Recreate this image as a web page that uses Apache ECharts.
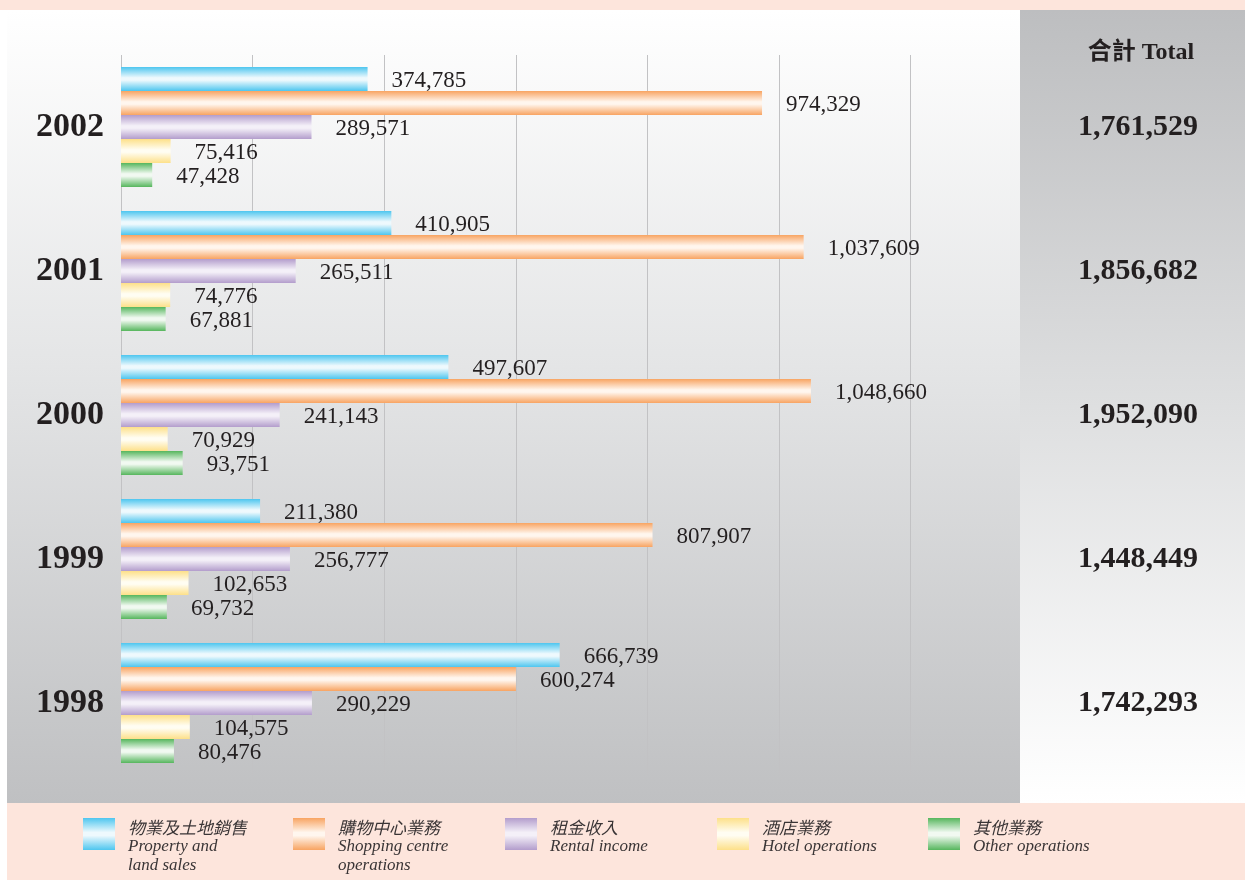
<!DOCTYPE html>
<html>
<head>
<meta charset="utf-8">
<script src="https://cdn.jsdelivr.net/npm/echarts@6/dist/echarts.min.js"></script>
<style>
  html, body { margin: 0; padding: 0; }
  body { width: 1245px; height: 880px; background: #fde5dc; position: relative; overflow: hidden; }
  #leftStrip { position: absolute; left: 0; top: 10px; width: 7px; height: 870px; background: #ffffff; }
  #mainPanel { position: absolute; left: 7px; top: 10px; width: 1013px; height: 793px;
    background: linear-gradient(to bottom, #ffffff 0%, #e4e5e6 45%, #bfc0c2 100%); }
  #rightPanel { position: absolute; left: 1020px; top: 10px; width: 225px; height: 793px;
    background: linear-gradient(to bottom, #bdbec0 0%, #dedfe0 50%, #ffffff 100%); }
  #chart { position: absolute; left: 0; top: 0; width: 1245px; height: 880px; }
</style>
</head>
<body>
<div id="leftStrip"></div>
<div id="mainPanel"></div>
<div id="rightPanel"></div>
<div id="chart"></div>
<script>
// ---- Data ----
const years = ['1998', '1999', '2000', '2001', '2002'];
const propertySales = [666739, 211380, 497607, 410905, 374785];
const shoppingCentre = [600274, 807907, 1048660, 1037609, 974329];
const rentalIncome = [290229, 256777, 241143, 265511, 289571];
const hotelOps = [104575, 102653, 70929, 74776, 75416];
const otherOps = [80476, 69732, 93751, 67881, 47428];
const totals = [1742293, 1448449, 1952090, 1856682, 1761529];
const seriesNamesCn = ['物業及土地銷售', '購物中心業務', '租金收入', '酒店業務', '其他業務'];
const seriesNamesEn = [['Property and', 'land sales'], ['Shopping centre', 'operations'], ['Rental income'], ['Hotel operations'], ['Other operations']];
const xTicks = [0, 200000, 400000, 600000, 800000, 1000000, 1200000];

const colors = ['#4ec6ef', '#f8a462', '#b39dcc', '#fde089', '#56b65d'];
const mids = ['#eef9fd', '#fff6ee', '#f4f0f8', '#fffdf2', '#f1f9f1'];
const fmt = v => Number(v).toLocaleString('en-US');
const serif = "'Liberation Serif', 'Noto Sans CJK TC', serif";

function grad(i) {
  return new echarts.graphic.LinearGradient(0, 0, 0, 1, [
    { offset: 0, color: colors[i] },
    { offset: 0.45, color: mids[i] },
    { offset: 0.55, color: mids[i] },
    { offset: 1, color: colors[i] }
  ]);
}

const allData = [propertySales, shoppingCentre, rentalIncome, hotelOps, otherOps];
const series = allData.map((d, i) => ({
  name: seriesNamesCn[i],
  type: 'bar',
  data: d,
  barWidth: 24,
  barGap: '0%',
  itemStyle: { color: grad(i) },
  label: {
    show: true,
    position: 'right',
    distance: 24,
    offset: [0, 2],
    formatter: p => fmt(p.value),
    fontFamily: serif,
    fontSize: 23,
    color: '#231f20'
  },
  emphasis: { disabled: true }
}));

const legendLefts = [83, 293, 505, 717, 928];
const lineH = 19;
const legends = seriesNamesCn.map((n, i) => {
  const en = seriesNamesEn[i];
  const lines = ['{cn|' + n + '}'].concat(en.map(e => '{en|' + e + '}'));
  const pad = Math.max(0, lineH * lines.length - 32);
  return {
    left: legendLefts[i],
    top: 818,
    padding: 0,
    orient: 'horizontal',
    data: [n],
    icon: 'rect',
    itemWidth: 32,
    itemHeight: 32,
    itemGap: 0,
    selectedMode: false,
    formatter: () => lines.join('\n'),
    textStyle: {
      padding: [pad, 0, 0, 8],
      rich: {
        cn: { fontFamily: "'Noto Sans CJK TC'", fontStyle: 'italic', fontSize: 17, color: '#3a3536', lineHeight: lineH },
        en: { fontFamily: serif, fontStyle: 'italic', fontSize: 17, color: '#3a3536', lineHeight: lineH }
      }
    }
  };
});

const chart = echarts.init(document.getElementById('chart'), null, { renderer: 'canvas' });
chart.setOption({
  backgroundColor: 'transparent',
  animation: false,
  title: {
    text: '合計 Total',
    left: 1136,
    top: 36,
    textAlign: 'center',
    textStyle: { fontFamily: serif, fontWeight: 'bold', fontSize: 24, color: '#231f20' }
  },
  legend: legends,
  grid: { left: 121, top: 55, width: 789.5, height: 720, containLabel: false },
  xAxis: {
    type: 'value',
    min: xTicks[0],
    max: xTicks[xTicks.length - 1],
    interval: xTicks[1] - xTicks[0],
    axisLine: { show: false },
    axisTick: { show: false },
    axisLabel: { show: false },
    splitLine: { show: true, lineStyle: { color: '#c2c2c4', width: 1 } }
  },
  yAxis: [
    {
      type: 'category',
      data: years,
      axisLine: { show: false },
      axisTick: { show: false },
      axisLabel: { margin: 17, padding: [14, 0, 0, 0], fontFamily: serif, fontWeight: 'bold', fontSize: 34, color: '#231f20' }
    },
    {
      type: 'category',
      position: 'right',
      data: totals.map(fmt),
      axisLine: { show: false },
      axisTick: { show: false },
      axisLabel: { margin: 227.5, align: 'center', padding: [10, 0, 0, 0], fontFamily: serif, fontWeight: 'bold', fontSize: 30, color: '#231f20' }
    }
  ],
  series: series
});
</script>
</body>
</html>
